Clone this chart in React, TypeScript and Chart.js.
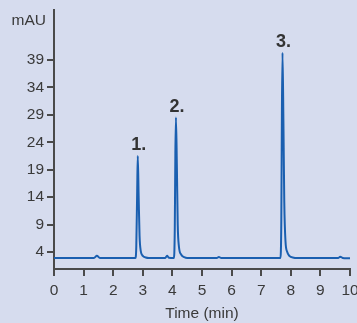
import React, { useEffect, useRef } from "react";
import { Chart, registerables } from "chart.js";

Chart.register(...registerables);

// Chromatogram trace (time in min, absorbance in mAU)
const times: number[] = [
  0, 1.35, 1.45, 1.55, 2.75, 2.78, 2.81, 2.83, 2.86, 2.89, 2.93, 3.0, 3.1, 3.2,
  3.75, 3.82, 3.88, 4.05, 4.08, 4.1, 4.12, 4.15, 4.18, 4.22, 4.3, 4.4, 4.5,
  5.5, 5.57, 5.65, 7.65, 7.68, 7.7, 7.72, 7.75, 7.78, 7.82, 7.88, 7.95, 8.1, 8.2,
  9.6, 9.67, 9.75, 9.9, 10,
];
const signal: number[] = [
  2.9, 2.9, 3.3, 2.9, 2.9, 5, 15, 21.5, 14, 7, 4.2, 3.3, 3.0, 2.9,
  2.9, 3.3, 2.95, 2.9, 8, 22, 28.5, 20, 9, 5, 3.5, 3.05, 2.9,
  2.9, 3.1, 2.9, 2.9, 10, 30, 40.3, 28, 13, 6, 4, 3.3, 2.95, 2.9,
  2.9, 3.15, 2.9, 2.85, 2.85,
];

const peakTimes: number[] = [2.83, 4.12, 7.72];
const peakHeights: number[] = [21.5, 28.5, 40.3];
const peakLabels: string[] = ["1.", "2.", "3."];

const yTicks: number[] = [4, 9, 14, 19, 24, 29, 34, 39];
const xTicks: number[] = [0, 1, 2, 3, 4, 5, 6, 7, 8, 9, 10];

const BG = "#d6dcee";
const AXIS = "#4a4a4a";
const TEXT = "#3a3a3a";
const LINE = "#1a5fb0";
const FONT = "'Liberation Sans', Arial, sans-serif";

export default function App() {
  const ref = useRef<HTMLCanvasElement | null>(null);

  useEffect(() => {
    if (!ref.current) return;
    const labelsPlugin = {
      id: "annot",
      afterDatasetsDraw(chart: any) {
        const ctx = chart.ctx;
        const xs = chart.scales.x;
        const ys = chart.scales.y;
        ctx.save();
        ctx.fillStyle = "#333333";
        ctx.font = `bold 18px ${FONT}`;
        ctx.textAlign = "center";
        ctx.textBaseline = "alphabetic";
        peakLabels.forEach((lab, i) => {
          const px = xs.getPixelForValue(peakTimes[i]);
          const py = ys.getPixelForValue(peakHeights[i]);
          ctx.fillText(lab, px + 1, py - 6);
        });
        ctx.fillStyle = TEXT;
        ctx.font = `15.5px ${FONT}`;
        ctx.textAlign = "right";
        ctx.textBaseline = "middle";
        ctx.fillText("mAU", ys.right - 8, 21);
        ctx.restore();
      },
    };

    const chart = new Chart(ref.current, {
      type: "line",
      data: {
        datasets: [
          {
            data: times.map((t, i) => ({ x: t, y: signal[i] })),
            borderColor: LINE,
            borderWidth: 2,
            pointRadius: 0,
            cubicInterpolationMode: "monotone",
            fill: false,
          },
        ],
      },
      options: {
        animation: false,
        responsive: false,
        maintainAspectRatio: false,
        layout: { padding: { top: 10, right: 0, bottom: 0, left: 0 } },
        plugins: { legend: { display: false }, tooltip: { enabled: false } },
        scales: {
          x: {
            type: "linear",
            min: 0,
            max: 10,
            afterBuildTicks: (s: any) => {
              s.ticks = xTicks.map((v) => ({ value: v }));
            },
            afterFit: (s: any) => {
              s.height = 54;
              s.paddingLeft = 0;
              s.paddingRight = 7;
            },
            border: { display: true, color: AXIS, width: 2 },
            grid: {
              drawOnChartArea: false,
              drawTicks: true,
              tickLength: 7,
              color: AXIS,
              lineWidth: 2,
            },
            ticks: {
              color: TEXT,
              font: { family: FONT, size: 15.5 },
              padding: 5,
              maxRotation: 0,
              autoSkip: false,
            },
            title: {
              display: true,
              text: "Time (min)",
              color: TEXT,
              font: { family: FONT, size: 15.5 },
              padding: { top: 0, bottom: 0 },
            },
          },
          y: {
            type: "linear",
            min: 0.9,
            max: 48.1,
            afterBuildTicks: (s: any) => {
              s.ticks = yTicks.map((v) => ({ value: v }));
            },
            afterFit: (s: any) => {
              s.width = 54;
              s.paddingTop = 0;
              s.paddingBottom = 0;
            },
            border: { display: true, color: AXIS, width: 2 },
            grid: {
              drawOnChartArea: false,
              drawTicks: true,
              tickLength: 7,
              color: AXIS,
              lineWidth: 2,
            },
            ticks: {
              color: TEXT,
              font: { family: FONT, size: 15.5 },
              padding: 3,
              autoSkip: false,
            },
          },
        },
      },
      plugins: [labelsPlugin],
    });
    return () => chart.destroy();
  }, []);

  return (
    <div
      style={{
        position: "fixed",
        left: 0,
        top: 0,
        width: 357,
        height: 323,
        background: BG,
      }}
    >
      <canvas ref={ref} width={357} height={323} style={{ display: "block" }} />
    </div>
  );
}
